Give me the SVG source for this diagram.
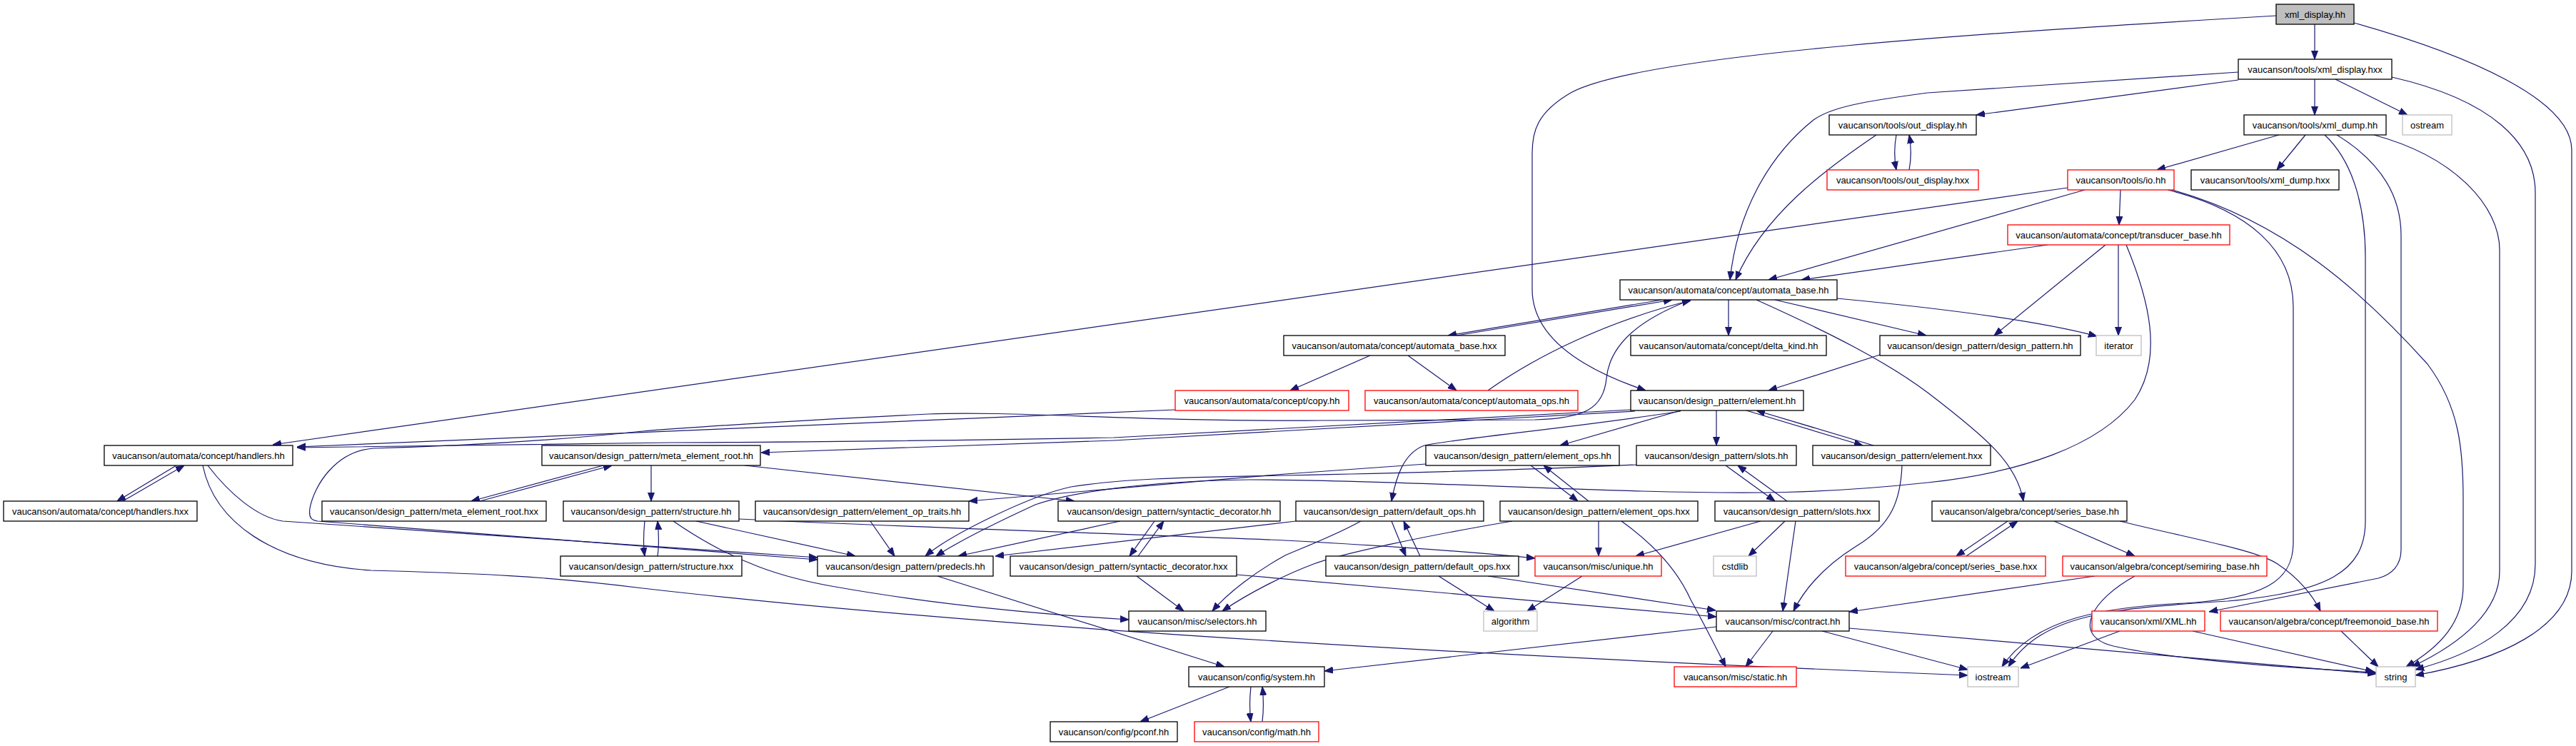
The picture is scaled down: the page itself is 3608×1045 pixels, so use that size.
<svg xmlns="http://www.w3.org/2000/svg" width="3608" height="1045" viewBox="0 0 3608 1045">
<style>
.n rect{fill:#ffffff;stroke:#000000;stroke-width:1.3}
.n.r rect{stroke:#ff0000}
.n.g rect{stroke:#bfbfbf}
.n.root rect{fill:#bfbfbf}
.n text{font-family:"Liberation Sans",Arial,sans-serif;font-size:13px;text-anchor:middle;fill:#000000}
#edges path{fill:none;stroke:#191970;stroke-width:1.2;marker-end:url(#a)}
</style>
<defs>
<marker id="a" markerUnits="userSpaceOnUse" viewBox="0 0 12 10" markerWidth="12" markerHeight="10" refX="12" refY="5" orient="auto">
<path d="M0,0.5 L12,5 L0,9.5 z" fill="#191970" stroke="#191970" stroke-width="1"/>
</marker>
</defs>
<rect width="3608" height="1045" fill="#ffffff"/>
<g id="edges">
<path d="M3242,34 L3242,83"/>
<path d="M3188,22 C2800,45 2300,75 2200,130 C2152,158 2146,185 2146,215 L2146,405 C2146,470 2210,515 2305,547"/>
<path d="M3297,32 C3460,78 3602,140 3602,210 L3602,800 C3602,880 3500,925 3383,946"/>
<path d="M3135,101 L2700,130 C2610,142 2565,150 2540,168 C2475,220 2433,300 2423,392"/>
<path d="M3135,112 L2768,161"/>
<path d="M3242,111 L3242,161"/>
<path d="M3271,111 L3372,161"/>
<path d="M3350,108 C3490,140 3551,200 3551,270 L3551,790 C3551,870 3470,915 3383,938"/>
<path d="M2656,189 C2653,205 2653,222 2656,238"/>
<path d="M2674,238 C2677,222 2677,205 2674,189"/>
<path d="M2628,189 C2560,235 2470,300 2431,392"/>
<path d="M3192,189 L3021,238"/>
<path d="M3229,189 L3189,238"/>
<path d="M3256,189 C3300,230 3313,300 3313,360 L3313,730 C3313,800 3260,830 3120,842 C2960,852 2860,860 2813,934"/>
<path d="M3273,189 C3340,230 3363,280 3363,330 L3363,770 C3363,792 3350,805 3331,810 L3094,857"/>
<path d="M3325,189 C3440,220 3501,290 3501,350 L3501,800 C3501,855 3450,900 3378,934"/>
<path d="M2896,263 L382,623"/>
<path d="M2920,266 L2477,392"/>
<path d="M2970,266 L2968,315"/>
<path d="M3036,266 C3150,295 3212,350 3212,430 L3212,760 C3212,815 3170,838 3060,845 C2950,850 2850,865 2804,934"/>
<path d="M3042,266 C3200,310 3310,410 3400,510 C3445,570 3450,630 3450,700 L3450,820 C3450,870 3420,905 3370,934"/>
<path d="M2868,343 L2523,392"/>
<path d="M2949,343 L2793,470"/>
<path d="M2967,343 L2967,470"/>
<path d="M2978,343 C3010,420 3030,500 2990,560 C2940,625 2830,662 2700,676 C2550,692 2450,692 2300,688 C2100,682 1900,672 1750,672 C1600,674 1500,690 1450,707 C1400,730 1340,760 1311,779"/>
<path d="M2328,420 L2028,470"/>
<path d="M2040,470 L2342,420"/>
<path d="M2421,420 L2421,470"/>
<path d="M2486,420 L2698,470"/>
<path d="M2573,418 C2700,430 2850,448 2937,471"/>
<path d="M2460,420 C2560,465 2640,505 2700,550 C2785,615 2825,650 2834,702"/>
<path d="M2368,420 C2300,446 2255,480 2250,530 C2246,572 2220,586 2150,588 L1850,589 C1600,591 1420,575 1300,580 C1100,590 950,600 900,604 C750,620 600,626 523,628 C470,632 440,680 434,712 C432,726 437,729 445,730 L1145,784"/>
<path d="M2084,547 C2150,500 2250,450 2368,421"/>
<path d="M1919,498 L1807,547"/>
<path d="M1972,498 L2040,547"/>
<path d="M1646,574 L416,626"/>
<path d="M2633,497 L2477,547"/>
<path d="M2284,574 L1560,613 C1300,618 1000,620 940,620 L416,627"/>
<path d="M2290,576 L1560,617 L1066,634"/>
<path d="M2354,575 L2185,624"/>
<path d="M2404,575 L2404,624"/>
<path d="M2446,575 L2609,624"/>
<path d="M2624,624 L2460,575"/>
<path d="M2354,576 C2200,600 2040,614 1995,624 C1965,635 1955,670 1949,702"/>
<path d="M247,652 L164,702"/>
<path d="M172,702 L258,652"/>
<path d="M291,652 C320,690 360,725 396,730 L1145,781"/>
<path d="M284,652 C300,730 380,790 520,799 C650,803 750,805 900,824 C1300,870 1900,912 2756,946"/>
<path d="M845,652 L660,702"/>
<path d="M672,702 L857,652"/>
<path d="M912,652 L912,702"/>
<path d="M1043,652 L1505,702"/>
<path d="M903,730 C901,750 901,765 903,779"/>
<path d="M921,779 C923,765 923,750 921,730"/>
<path d="M975,730 L1198,779"/>
<path d="M943,730 C1030,790 1100,810 1170,822 C1300,845 1450,860 1581,868"/>
<path d="M1035,727 C1300,740 1700,752 1800,757 C1950,765 2080,775 2150,782"/>
<path d="M1219,730 L1253,779"/>
<path d="M1569,730 L1342,779"/>
<path d="M1617,730 L1582,779"/>
<path d="M1594,779 L1630,730"/>
<path d="M1592,807 L1658,856"/>
<path d="M1732,805 L2404,864"/>
<path d="M1313,807 L1715,934"/>
<path d="M1722,962 L1597,1011"/>
<path d="M1752,962 C1750,980 1750,995 1752,1011"/>
<path d="M1768,1011 C1770,995 1770,980 1768,962"/>
<path d="M1997,650 L1800,664 L1357,702"/>
<path d="M2292,651 C2100,660 1900,664 1800,666 C1650,668 1560,672 1500,682 C1440,695 1330,750 1296,779"/>
<path d="M1815,730 L1394,779"/>
<path d="M1949,730 L1969,779"/>
<path d="M1989,779 L1966,730"/>
<path d="M1906,730 C1870,750 1830,765 1800,778 C1760,800 1720,830 1698,856"/>
<path d="M2118,730 C2000,750 1880,775 1840,790 C1800,805 1750,830 1712,856"/>
<path d="M2144,652 L2210,702"/>
<path d="M2225,702 L2162,652"/>
<path d="M2239,730 L2239,779"/>
<path d="M2271,730 C2320,765 2350,800 2368,840 C2390,880 2405,910 2417,934"/>
<path d="M2417,652 L2486,702"/>
<path d="M2503,702 L2434,652"/>
<path d="M2466,730 L2291,779"/>
<path d="M2500,730 L2449,779"/>
<path d="M2515,730 L2497,856"/>
<path d="M2664,652 C2662,700 2650,735 2600,765 C2560,790 2530,820 2512,856"/>
<path d="M2015,807 L2093,856"/>
<path d="M2084,807 L2403,855"/>
<path d="M2216,807 L2139,856"/>
<path d="M2404,878 L1855,940"/>
<path d="M2483,884 L2445,934"/>
<path d="M2552,884 L2756,938"/>
<path d="M2590,880 L3328,944"/>
<path d="M2812,730 L2740,779"/>
<path d="M2754,779 L2826,730"/>
<path d="M2877,730 L2990,779"/>
<path d="M2969,730 C3070,755 3160,770 3190,790 C3220,810 3240,835 3250,856"/>
<path d="M2934,807 L2590,857"/>
<path d="M2990,807 C2930,840 2900,890 2960,905 C3050,925 3200,935 3328,942"/>
<path d="M2969,884 L2830,936"/>
<path d="M3071,884 L3325,941"/>
<path d="M3279,884 L3331,934"/>
</g>
<g id="n0" class="n root"><rect x="3188" y="6" width="109" height="28"/><text x="3242.5" y="24.5">xml_display.hh</text></g>
<g id="n1" class="n"><rect x="3135" y="83" width="215" height="28"/><text x="3242.5" y="101.5">vaucanson/tools/xml_display.hxx</text></g>
<g id="n2" class="n"><rect x="2562" y="161" width="206" height="28"/><text x="2665" y="179.5">vaucanson/tools/out_display.hh</text></g>
<g id="n3" class="n"><rect x="3143" y="161" width="199" height="28"/><text x="3242.5" y="179.5">vaucanson/tools/xml_dump.hh</text></g>
<g id="n4" class="n g"><rect x="3365" y="161" width="69" height="28"/><text x="3399.5" y="179.5">ostream</text></g>
<g id="n5" class="n r"><rect x="2559" y="238" width="212" height="28"/><text x="2665" y="256.5">vaucanson/tools/out_display.hxx</text></g>
<g id="n6" class="n r"><rect x="2896" y="238" width="149" height="28"/><text x="2970.5" y="256.5">vaucanson/tools/io.hh</text></g>
<g id="n7" class="n"><rect x="3069" y="238" width="207" height="28"/><text x="3172.5" y="256.5">vaucanson/tools/xml_dump.hxx</text></g>
<g id="n8" class="n r"><rect x="2812" y="315" width="311" height="28"/><text x="2967.5" y="333.5">vaucanson/automata/concept/transducer_base.hh</text></g>
<g id="n9" class="n"><rect x="2269" y="392" width="304" height="28"/><text x="2421" y="410.5">vaucanson/automata/concept/automata_base.hh</text></g>
<g id="n10" class="n"><rect x="1798" y="470" width="310" height="28"/><text x="1953" y="488.5">vaucanson/automata/concept/automata_base.hxx</text></g>
<g id="n11" class="n"><rect x="2284" y="470" width="274" height="28"/><text x="2421" y="488.5">vaucanson/automata/concept/delta_kind.hh</text></g>
<g id="n12" class="n"><rect x="2633" y="470" width="281" height="28"/><text x="2773.5" y="488.5">vaucanson/design_pattern/design_pattern.hh</text></g>
<g id="n13" class="n g"><rect x="2936" y="470" width="63" height="28"/><text x="2967.5" y="488.5">iterator</text></g>
<g id="n14" class="n r"><rect x="1646" y="547" width="243" height="28"/><text x="1767.5" y="565.5">vaucanson/automata/concept/copy.hh</text></g>
<g id="n15" class="n r"><rect x="1912" y="547" width="298" height="28"/><text x="2061" y="565.5">vaucanson/automata/concept/automata_ops.hh</text></g>
<g id="n16" class="n"><rect x="2284" y="547" width="242" height="28"/><text x="2405" y="565.5">vaucanson/design_pattern/element.hh</text></g>
<g id="n17" class="n"><rect x="146" y="624" width="264" height="28"/><text x="278" y="642.5">vaucanson/automata/concept/handlers.hh</text></g>
<g id="n18" class="n"><rect x="759" y="624" width="306" height="28"/><text x="912" y="642.5">vaucanson/design_pattern/meta_element_root.hh</text></g>
<g id="n19" class="n"><rect x="1997" y="624" width="271" height="28"/><text x="2132.5" y="642.5">vaucanson/design_pattern/element_ops.hh</text></g>
<g id="n20" class="n"><rect x="2292" y="624" width="224" height="28"/><text x="2404" y="642.5">vaucanson/design_pattern/slots.hh</text></g>
<g id="n21" class="n"><rect x="2539" y="624" width="249" height="28"/><text x="2663.5" y="642.5">vaucanson/design_pattern/element.hxx</text></g>
<g id="n22" class="n"><rect x="5" y="702" width="271" height="28"/><text x="140.5" y="720.5">vaucanson/automata/concept/handlers.hxx</text></g>
<g id="n23" class="n"><rect x="451" y="702" width="314" height="28"/><text x="608" y="720.5">vaucanson/design_pattern/meta_element_root.hxx</text></g>
<g id="n24" class="n"><rect x="789" y="702" width="246" height="28"/><text x="912" y="720.5">vaucanson/design_pattern/structure.hh</text></g>
<g id="n25" class="n"><rect x="1058" y="702" width="299" height="28"/><text x="1207.5" y="720.5">vaucanson/design_pattern/element_op_traits.hh</text></g>
<g id="n26" class="n"><rect x="1482" y="702" width="311" height="28"/><text x="1637.5" y="720.5">vaucanson/design_pattern/syntactic_decorator.hh</text></g>
<g id="n27" class="n"><rect x="1815" y="702" width="263" height="28"/><text x="1946.5" y="720.5">vaucanson/design_pattern/default_ops.hh</text></g>
<g id="n28" class="n"><rect x="2101" y="702" width="277" height="28"/><text x="2239.5" y="720.5">vaucanson/design_pattern/element_ops.hxx</text></g>
<g id="n29" class="n"><rect x="2402" y="702" width="230" height="28"/><text x="2517" y="720.5">vaucanson/design_pattern/slots.hxx</text></g>
<g id="n30" class="n"><rect x="2706" y="702" width="273" height="28"/><text x="2842.5" y="720.5">vaucanson/algebra/concept/series_base.hh</text></g>
<g id="n31" class="n"><rect x="785" y="779" width="254" height="28"/><text x="912" y="797.5">vaucanson/design_pattern/structure.hxx</text></g>
<g id="n32" class="n"><rect x="1145" y="779" width="246" height="28"/><text x="1268" y="797.5">vaucanson/design_pattern/predecls.hh</text></g>
<g id="n33" class="n"><rect x="1415" y="779" width="317" height="28"/><text x="1573.5" y="797.5">vaucanson/design_pattern/syntactic_decorator.hxx</text></g>
<g id="n34" class="n"><rect x="1857" y="779" width="270" height="28"/><text x="1992" y="797.5">vaucanson/design_pattern/default_ops.hxx</text></g>
<g id="n35" class="n r"><rect x="2150" y="779" width="177" height="28"/><text x="2238.5" y="797.5">vaucanson/misc/unique.hh</text></g>
<g id="n36" class="n g"><rect x="2400" y="779" width="60" height="28"/><text x="2430" y="797.5">cstdlib</text></g>
<g id="n37" class="n r"><rect x="2585" y="779" width="280" height="28"/><text x="2725" y="797.5">vaucanson/algebra/concept/series_base.hxx</text></g>
<g id="n38" class="n r"><rect x="2889" y="779" width="286" height="28"/><text x="3032" y="797.5">vaucanson/algebra/concept/semiring_base.hh</text></g>
<g id="n39" class="n"><rect x="1581" y="856" width="192" height="28"/><text x="1677" y="874.5">vaucanson/misc/selectors.hh</text></g>
<g id="n40" class="n g"><rect x="2078" y="856" width="75" height="28"/><text x="2115.5" y="874.5">algorithm</text></g>
<g id="n41" class="n"><rect x="2404" y="856" width="186" height="28"/><text x="2497" y="874.5">vaucanson/misc/contract.hh</text></g>
<g id="n42" class="n r"><rect x="2930" y="856" width="158" height="28"/><text x="3009" y="874.5">vaucanson/xml/XML.hh</text></g>
<g id="n43" class="n r"><rect x="3110" y="856" width="304" height="28"/><text x="3262" y="874.5">vaucanson/algebra/concept/freemonoid_base.hh</text></g>
<g id="n44" class="n"><rect x="1665" y="934" width="190" height="28"/><text x="1760" y="952.5">vaucanson/config/system.hh</text></g>
<g id="n45" class="n r"><rect x="2345" y="934" width="171" height="28"/><text x="2430.5" y="952.5">vaucanson/misc/static.hh</text></g>
<g id="n46" class="n g"><rect x="2756" y="934" width="71" height="28"/><text x="2791.5" y="952.5">iostream</text></g>
<g id="n47" class="n g"><rect x="3328" y="934" width="55" height="28"/><text x="3355.5" y="952.5">string</text></g>
<g id="n48" class="n"><rect x="1471" y="1011" width="178" height="28"/><text x="1560" y="1029.5">vaucanson/config/pconf.hh</text></g>
<g id="n49" class="n r"><rect x="1673" y="1011" width="174" height="28"/><text x="1760" y="1029.5">vaucanson/config/math.hh</text></g>
</svg>
